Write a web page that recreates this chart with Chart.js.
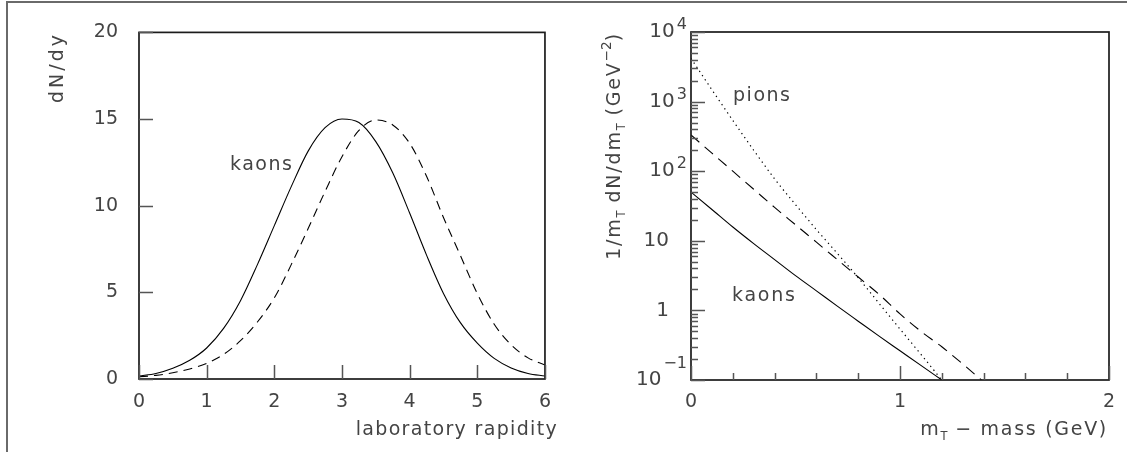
<!DOCTYPE html>
<html><head><meta charset="utf-8">
<script src="https://cdn.jsdelivr.net/npm/chart.js@4.4.1/dist/chart.umd.min.js"></script>
<style>
html,body{margin:0;padding:0;background:#fff;}
#wrap{position:relative;width:1127px;height:452px;overflow:hidden;background:#fff;}
#frame{position:absolute;left:6px;top:1px;width:1300px;height:600px;border-top:2px solid #6a6a6a;border-left:2px solid #6a6a6a;}
canvas{position:absolute;top:0;}
#c1{left:0;}
#c2{left:563px;}
</style></head><body>
<div id="wrap">
<div id="frame"></div>
<canvas id="c1" width="563" height="452"></canvas>
<canvas id="c2" width="564" height="452"></canvas>
</div>
<script>
// ---------- data ----------
// left panel: dN/dy vs laboratory rapidity
const rapidity    = [0,0.25,0.5,0.75,1,1.25,1.5,1.75,2,2.25,2.5,2.75,3,3.25,3.5,3.75,4,4.25,4.5,4.75,5,5.25,5.5,5.75,6];
const kaonsDNdy   = [0.17,0.32,0.62,1.08,1.79,2.92,4.52,6.60,8.85,11.10,13.15,14.50,15.00,14.80,13.70,11.90,9.58,7.15,4.94,3.25,2.07,1.19,0.64,0.32,0.17];
const dashedDNdy  = [0.13,0.21,0.36,0.58,0.90,1.42,2.21,3.29,4.68,6.60,8.68,10.82,12.83,14.34,14.95,14.66,13.60,11.70,9.32,7.13,4.93,3.16,1.97,1.22,0.81];
const leftXTicks  = [0,1,2,3,4,5,6];
const leftYTicks  = [0,5,10,15,20];

// right panel: 1/mT dN/dmT vs mT - mass
const mtKaons     = [0,0.1,0.2,0.3,0.4,0.5,0.6,0.7,0.8,0.9,1.0,1.1,1.2];
const kaonsSpec   = [50.1,28.2,15.8,9.12,5.37,3.16,1.91,1.15,0.70,0.427,0.263,0.162,0.1];
const mtDashed    = [0,0.1,0.2,0.3,0.4,0.5,0.6,0.7,0.8,0.9,1.0,1.1,1.2,1.3,1.39];
const dashedSpec  = [331,182,100,55,30.2,17.0,9.55,5.37,3.02,1.70,0.89,0.50,0.30,0.17,0.1];
const mtPions     = [0,0.1,0.2,0.3,0.4,0.5,0.6,0.7,0.8,0.9,1.0,1.1,1.2];
const pionsSpec   = [4170,1480,537,200,77.6,33.1,14.5,6.6,2.95,1.26,0.54,0.234,0.1];
const rightXMajor = [0,1,2];
const rightXMinor = [0.2,0.4,0.6,0.8,1.2,1.4,1.6,1.8];
const rightYDecades = [0.1,1,10,100,1000,10000];
const rightYLabels  = [['10','\u22121'],['1',''],['10',''],['10','2'],['10','3'],['10','4']];

// ---------- styling helpers ----------
const FAMILY = "'DejaVu Sans', 'Liberation Sans', sans-serif";
const TEXT = '#444';
const AXIS = '#1c1c1c';
const TICK = '#555';
const TSIZE = 19;

function segSize(k, size) { return k === 'n' ? size : (k === 'sub' ? size * 0.6 : size * 0.72); }

// draws rich text (sub/superscripts) so that its total width is `target`
function drawRich(ctx, segs, x, y, size, align, target) {
  const items = []; let w0 = 0, n = 0;
  for (const s of segs) {
    const k = s.k || 'n';
    const sz = segSize(k, size);
    ctx.font = sz + 'px ' + FAMILY;
    if ('letterSpacing' in ctx) ctx.letterSpacing = '0px';
    const m = ctx.measureText(s.t).width;
    items.push({t: s.t, k, sz, m}); w0 += m;
    if (k === 'n') n += s.t.length;
  }
  const hasLS = 'letterSpacing' in ctx;
  let sp = 0, sx = 1;
  if (target) {
    if (hasLS) sp = Math.max(0, (target - w0) / Math.max(1, n - 1));
    else sx = target / w0;
  }
  let w = 0;
  for (const it of items) { it.w = it.m + (it.k === 'n' ? sp * it.t.length : 0); w += it.w; }
  w *= sx;
  let cx = align === 'right' ? x - w : (align === 'center' ? x - w / 2 : x);
  ctx.save();
  ctx.translate(cx, y);
  ctx.scale(sx, 1);
  ctx.textAlign = 'left'; ctx.textBaseline = 'alphabetic';
  let px = 0;
  for (const it of items) {
    ctx.font = it.sz + 'px ' + FAMILY;
    if (hasLS) ctx.letterSpacing = (it.k === 'n' ? sp : 0) + 'px';
    const dy = it.k === 'sub' ? size * 0.28 : (it.k === 'sup' ? -size * 0.45 : 0);
    ctx.fillText(it.t, px, dy);
    px += it.w;
  }
  if (hasLS) ctx.letterSpacing = '0px';
  ctx.restore();
  return w;
}
function drawRotated(ctx, segs, baseX, endY, size, target) {
  ctx.save();
  ctx.translate(baseX, endY);
  ctx.rotate(-Math.PI / 2);
  drawRich(ctx, segs, 0, 0, size, 'right', target);
  ctx.restore();
}
function tickLines(ctx, chart, xs, ys, len) {
  const a = chart.chartArea, sx = chart.scales.x, sy = chart.scales.y;
  ctx.beginPath();
  for (const v of xs) { const p = Math.round(sx.getPixelForValue(v)) + 0.5; ctx.moveTo(p, a.bottom); ctx.lineTo(p, a.bottom - len); }
  for (const v of ys) { const p = Math.round(sy.getPixelForValue(v)) + 0.5; ctx.moveTo(a.left, p); ctx.lineTo(a.left + len, p); }
  ctx.stroke();
}
function box(ctx, a) {
  ctx.strokeStyle = AXIS; ctx.lineWidth = 1.7;
  ctx.strokeRect(a.left, a.top, a.right - a.left, a.bottom - a.top);
}

const tickFont = {family: FAMILY, size: 19};

// ---------- left panel ----------
const leftDecor = {
  id: 'leftDecor',
  afterDatasetsDraw(chart) {
    const ctx = chart.ctx, a = chart.chartArea;
    ctx.save();
    box(ctx, a);
    ctx.strokeStyle = TICK; ctx.lineWidth = 1.5;
    tickLines(ctx, chart, leftXTicks, leftYTicks, 14);
    ctx.fillStyle = TEXT;
    drawRich(ctx, [{t: 'kaons'}], 230, 170, TSIZE, 'left', 62);
    drawRich(ctx, [{t: 'laboratory rapidity'}], 558, 435, TSIZE, 'right', 201);
    drawRotated(ctx, [{t: 'dN/dy'}], 63, 32, TSIZE, 68);
    ctx.restore();
  }
};

new Chart(document.getElementById('c1'), {
  type: 'line',
  data: {datasets: [
    {data: rapidity.map((r, i) => ({x: r, y: kaonsDNdy[i]})), borderColor: '#000', borderWidth: 1.1, pointRadius: 0, cubicInterpolationMode: 'monotone', fill: false},
    {data: rapidity.map((r, i) => ({x: r, y: dashedDNdy[i]})), borderColor: '#000', borderWidth: 1.1, borderDash: [9, 6], pointRadius: 0, cubicInterpolationMode: 'monotone', fill: false}
  ]},
  options: {
    responsive: false, animation: false, devicePixelRatio: 1,
    layout: {padding: {left: 0, top: 32, right: 5, bottom: 0}},
    plugins: {legend: {display: false}, tooltip: {enabled: false}},
    scales: {
      x: {type: 'linear', min: 0, max: 6, grid: {display: false, drawTicks: false}, border: {display: false},
          ticks: {stepSize: 1, padding: 12, color: TEXT, font: tickFont, maxRotation: 0, autoSkip: false},
          afterFit(s) { s.height = 73; }},
      y: {type: 'linear', min: 0, max: 20, grid: {display: false, drawTicks: false}, border: {display: false},
          ticks: {stepSize: 5, padding: 21, color: TEXT, font: tickFont},
          afterFit(s) { s.width = 139; }}
    }
  },
  plugins: [leftDecor]
});

// ---------- right panel ----------
const rightDecor = {
  id: 'rightDecor',
  afterDatasetsDraw(chart) {
    const ctx = chart.ctx, a = chart.chartArea, sy = chart.scales.y;
    ctx.save();
    box(ctx, a);
    ctx.strokeStyle = TICK; ctx.lineWidth = 1.5;
    tickLines(ctx, chart, rightXMajor, rightYDecades, 14);
    const minors = [];
    for (let k = -1; k <= 3; k++) for (let m = 2; m <= 9; m++) minors.push(m * Math.pow(10, k));
    tickLines(ctx, chart, rightXMinor, minors, 7);
    // y tick labels with superscripts
    ctx.fillStyle = TEXT;
    rightYDecades.forEach((v, i) => {
      const [main, sup] = rightYLabels[i];
      const py = sy.getPixelForValue(v);
      ctx.textBaseline = 'middle';
      if (!sup) {
        ctx.font = '20px ' + FAMILY; ctx.textAlign = 'right';
        ctx.fillText(main, 106, py);
      } else {
        ctx.font = '16px ' + FAMILY; ctx.textAlign = 'right';
        const raise = v < 1 ? 16 : 7;
        ctx.fillText(sup, 124, py - raise);
        const sw = ctx.measureText(sup).width;
        ctx.font = '20px ' + FAMILY;
        ctx.fillText(main, 124 - sw - 2, py);
      }
    });
    drawRich(ctx, [{t: 'pions'}], 170, 101, TSIZE, 'left', 57);
    drawRich(ctx, [{t: 'kaons'}], 169, 301, TSIZE, 'left', 63);
    drawRich(ctx, [{t: 'm'}, {t: 'T', k: 'sub'}, {t: ' \u2212 mass (GeV)'}], 545, 435, TSIZE, 'right', 186);
    drawRotated(ctx, [{t: '1/m'}, {t: 'T', k: 'sub'}, {t: ' dN/dm'}, {t: 'T', k: 'sub'}, {t: ' (GeV'}, {t: '\u22122', k: 'sup'}, {t: ')'}], 57, 32, TSIZE, 226);
    ctx.restore();
  }
};

new Chart(document.getElementById('c2'), {
  type: 'line',
  data: {datasets: [
    {data: mtKaons.map((m, i) => ({x: m, y: kaonsSpec[i]})), borderColor: '#000', borderWidth: 1.1, pointRadius: 0, cubicInterpolationMode: 'monotone', fill: false},
    {data: mtDashed.map((m, i) => ({x: m, y: dashedSpec[i]})), borderColor: '#000', borderWidth: 1.1, borderDash: [11, 7], pointRadius: 0, cubicInterpolationMode: 'monotone', fill: false},
    {data: mtPions.map((m, i) => ({x: m, y: pionsSpec[i]})), borderColor: '#000', borderWidth: 1.2, borderDash: [1.3, 3.7], pointRadius: 0, cubicInterpolationMode: 'monotone', fill: false}
  ]},
  options: {
    responsive: false, animation: false, devicePixelRatio: 1,
    layout: {padding: {left: 0, top: 32, right: 18, bottom: 0}},
    plugins: {legend: {display: false}, tooltip: {enabled: false}},
    scales: {
      x: {type: 'linear', min: 0, max: 2, grid: {display: false, drawTicks: false}, border: {display: false},
          ticks: {stepSize: 1, padding: 11, color: TEXT, font: tickFont, maxRotation: 0, autoSkip: false},
          afterFit(s) { s.height = 72; }},
      y: {type: 'logarithmic', min: 0.1, max: 10000, grid: {display: false, drawTicks: false}, border: {display: false},
          ticks: {display: false},
          afterFit(s) { s.width = 128; }}
    }
  },
  plugins: [rightDecor]
});
</script>
</body></html>
